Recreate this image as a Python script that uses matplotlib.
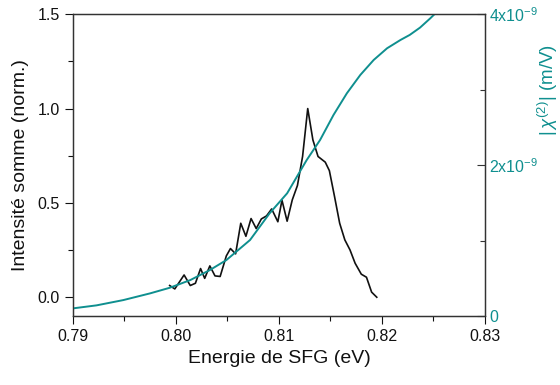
import matplotlib
matplotlib.use("Agg")
import matplotlib.pyplot as plt
from matplotlib.ticker import FixedLocator, MultipleLocator

TEAL = "#0f8f8f"
INK = "#111111"
plt.rcParams["font.family"] = ["Liberation Sans", "DejaVu Sans"]
plt.rcParams["mathtext.fontset"] = "custom"
plt.rcParams["mathtext.rm"] = "Liberation Sans"
plt.rcParams["mathtext.it"] = "Liberation Sans:italic"
plt.rcParams["mathtext.bf"] = "Liberation Sans:bold"

# SFG intensity (normalized)
energy = [0.7994, 0.7999, 0.8008, 0.8014, 0.8019, 0.8024, 0.8028, 0.8033,
          0.8038, 0.8043, 0.8049, 0.8053, 0.8058, 0.8063, 0.8068, 0.8073,
          0.8078, 0.8083, 0.8088, 0.8093, 0.8099, 0.8103, 0.8108, 0.8113,
          0.8118, 0.8123, 0.8128, 0.8133, 0.8138, 0.8145, 0.8149, 0.8154,
          0.8159, 0.8164, 0.8169, 0.8174, 0.8180, 0.8185, 0.8190, 0.8195]
intensity = [0.062, 0.044, 0.118, 0.062, 0.074, 0.152, 0.100, 0.166,
             0.113, 0.110, 0.219, 0.258, 0.230, 0.392, 0.323, 0.417,
             0.364, 0.415, 0.431, 0.468, 0.400, 0.514, 0.403, 0.516,
             0.592, 0.746, 1.000, 0.834, 0.746, 0.716, 0.671, 0.534,
             0.392, 0.304, 0.251, 0.180, 0.122, 0.106, 0.027, 0.000]

# |chi(2)| (units of 1e-9 m/V)
chi_e = [0.7900, 0.7923, 0.7949, 0.7975, 0.7994, 0.8014, 0.8033, 0.8049,
         0.8072, 0.8091, 0.8108, 0.8127, 0.8140, 0.8153, 0.8166, 0.8179,
         0.8192, 0.8205, 0.8218, 0.8227, 0.8237, 0.8247, 0.8251, 0.8260]
chi = [0.102, 0.142, 0.212, 0.301, 0.375, 0.477, 0.610, 0.742,
       1.008, 1.362, 1.627, 2.068, 2.334, 2.665, 2.953, 3.195,
       3.394, 3.549, 3.659, 3.726, 3.823, 3.947, 4.000, 4.110]

fig = plt.figure(figsize=(5.6, 3.85), dpi=100)
ax = fig.add_axes([0.130, 0.179, 0.736, 0.784])
ax.plot(energy, intensity, color=INK, lw=1.2, zorder=3)
ax.set_xlim(0.79, 0.83)
ax.set_ylim(-0.1, 1.5)
ax.xaxis.set_major_locator(MultipleLocator(0.01))
ax.xaxis.set_minor_locator(MultipleLocator(0.005))
ax.yaxis.set_major_locator(FixedLocator([0.0, 0.5, 1.0, 1.5]))
ax.yaxis.set_minor_locator(FixedLocator([0.25, 0.75, 1.25]))
ax.xaxis.set_major_formatter(plt.FuncFormatter(lambda v, p: f"{v:.2f}"))
ax.yaxis.set_major_formatter(plt.FuncFormatter(lambda v, p: f"{v:.1f}"))
ax.tick_params(which="both", direction="out", labelsize=11.5, colors=INK, width=0.8)
ax.tick_params(which="major", length=6)
ax.tick_params(which="minor", length=3.5)
ax.set_xlabel("Energie de SFG (eV)", fontsize=14, color=INK, labelpad=4)
ax.set_ylabel("Intensité somme (norm.)", fontsize=14, color=INK, labelpad=6)
for s in ax.spines.values():
    s.set_color("#333333")
    s.set_linewidth(0.9)

ax2 = ax.twinx()
ax2.plot(chi_e, [c * 1e-9 for c in chi], color=TEAL, lw=1.4, zorder=2)
ax2.set_ylim(0, 4e-9)
ax2.yaxis.set_major_locator(FixedLocator([0, 2e-9, 4e-9]))
ax2.yaxis.set_minor_locator(FixedLocator([1e-9, 3e-9]))
ax2.set_yticklabels(["0", r"2x10$^{-9}$", r"4x10$^{-9}$"])
ax2.tick_params(which="both", direction="in", labelsize=11.5, labelcolor=TEAL,
                color="#333333", width=0.8, pad=3)
ax2.tick_params(which="major", length=6)
ax2.tick_params(which="minor", length=3.5)
ax2.set_ylabel(r"$|\,\chi^{(2)}|$ (m/V)", fontsize=13.5, color=TEAL)
ax2.yaxis.set_label_coords(1.124, 0.75)
for s in ax2.spines.values():
    s.set_color("#333333")
    s.set_linewidth(0.9)

fig.savefig("out.png", dpi=100)
